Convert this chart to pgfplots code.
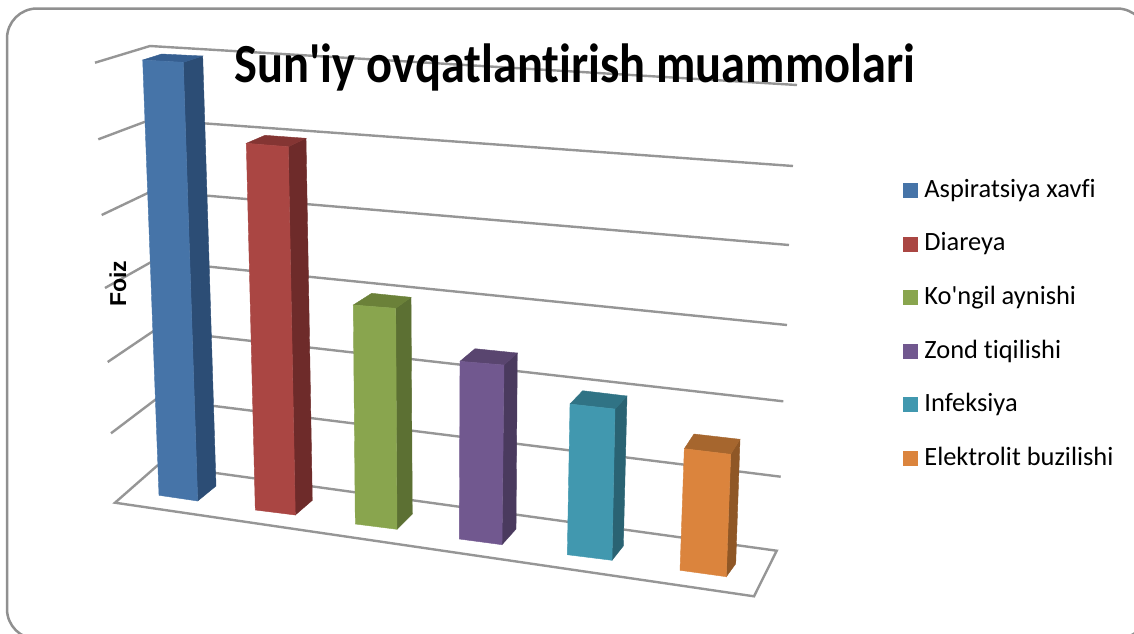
\documentclass[border=0pt]{standalone}
\usepackage{pgfplots}
\pgfplotsset{compat=1.18}
\usepackage{fontspec}
\setmainfont{Carlito}[Ligatures=NoCommon]
\newfontfamily\arialf{Liberation Sans}
\definecolor{gridc}{HTML}{969696}
\definecolor{frameC}{HTML}{909090}
\definecolor{b1}{HTML}{4674A8}\definecolor{b2}{HTML}{2C4D75}\definecolor{b3}{HTML}{365F91}
\definecolor{r1}{HTML}{AA4643}\definecolor{r2}{HTML}{6E2B2A}\definecolor{r3}{HTML}{843533}
\definecolor{g1}{HTML}{89A54E}\definecolor{g2}{HTML}{5C7033}\definecolor{g3}{HTML}{6B8139}
\definecolor{p1}{HTML}{71588F}\definecolor{p2}{HTML}{4A3A5E}\definecolor{p3}{HTML}{59456F}
\definecolor{t1}{HTML}{4198AF}\definecolor{t2}{HTML}{2A6373}\definecolor{t3}{HTML}{307385}
\definecolor{o1}{HTML}{DB843D}\definecolor{o2}{HTML}{8F5726}\definecolor{o3}{HTML}{A6662E}
\pgfplotsset{gl/.style={draw=gridc, line width=2.4pt, forget plot}}
\begin{document}
\begin{tikzpicture}
\begin{axis}[
  scale only axis, width=1134pt, height=633pt,
  xmin=0, xmax=1134, ymin=0, ymax=633, y dir=reverse,
  hide axis, clip=true,
  legend style={at={(axis cs:903,179)}, anchor=north west, draw=none, fill=none,
    font=\fontsize{26.4}{28}\selectfont, row sep=29.6pt, inner sep=0pt,
    nodes={inner sep=0pt, text height=18pt, text depth=6pt}},
  legend cell align=left,
  legend image code/.code={\path[draw=none,fill=none] (0pt,0pt) rectangle (21pt,0pt);\fill[#1] (0pt,-6pt) rectangle (14pt,8pt);},
]
\path (axis cs:0,0) rectangle (axis cs:1134,633);
\draw[frameC, line width=2.5pt, rounded corners=30pt] (axis cs:7,8.5) rectangle (axis cs:1147,639);
% walls and floor
\addplot[gl] coordinates {(95,62.7) (150,46) (797,85)};
\addplot[gl] coordinates {(98.3,139.3) (151,119.5) (793,166)};
\addplot[gl] coordinates {(101.7,215) (152,191) (789,245)};
\addplot[gl] coordinates {(105,288) (153,261) (787,325)};
\addplot[gl] coordinates {(107.7,362) (155,330) (783.3,401.3)};
\addplot[gl] coordinates {(111,433.3) (156.5,398.8) (780.7,476.7)};
\addplot[gl] coordinates {(158,465) (115,502.7) (754,596.3) (776.7,550.7) (158,465)};
% Aspiratsiya xavfi
\addplot[fill=b2, draw=b2, forget plot] coordinates {(183.3,62.3) (202.7,56) (216,486) (197.7,501)} --cycle;
\addplot[fill=b3, draw=b3, forget plot] coordinates {(142.7,60) (161.7,54) (202.7,56) (183.3,62.3)} --cycle;
\addplot[fill=b1, draw=b1] coordinates {(142.7,60) (183.3,62.3) (197.7,501) (159,495.3)} --cycle;
% Diareya
\addplot[fill=r2, draw=r2, forget plot] coordinates {(288.3,146.7) (306,138.3) (312.3,500.3) (295.3,515)} --cycle;
\addplot[fill=r3, draw=r3, forget plot] coordinates {(246.3,143.3) (265,135.3) (306,138.3) (288.3,146.7)} --cycle;
\addplot[fill=r1, draw=r1] coordinates {(246.3,143.3) (288.3,146.7) (295.3,515) (255.3,510)} --cycle;
% Ko'ngil aynishi
\addplot[fill=g2, draw=g2, forget plot] coordinates {(395.7,308.3) (411,297.3) (412.3,514) (397,529.3)} --cycle;
\addplot[fill=g3, draw=g3, forget plot] coordinates {(353.3,305) (371.7,293.3) (411,297.3) (395.7,308.3)} --cycle;
\addplot[fill=g1, draw=g1] coordinates {(353.3,305) (395.7,308.3) (397,529.3) (355.3,524)} --cycle;
% Zond tiqilishi
\addplot[fill=p2, draw=p2, forget plot] coordinates {(504,365) (517.3,353) (516,529) (502,544.7)} --cycle;
\addplot[fill=p3, draw=p3, forget plot] coordinates {(460,361.3) (475,348.7) (517.3,353) (504,365)} --cycle;
\addplot[fill=p1, draw=p1] coordinates {(460,361.3) (504,365) (502,544.7) (459.3,539)} --cycle;
% Infeksiya
\addplot[fill=t2, draw=t2, forget plot] coordinates {(615,409) (627,396) (623.3,546) (612,560.3)} --cycle;
\addplot[fill=t3, draw=t3, forget plot] coordinates {(570,404) (582.7,390.7) (627,396) (615,409)} --cycle;
\addplot[fill=t1, draw=t1] coordinates {(570,404) (615,409) (612,560.3) (567.3,554.7)} --cycle;
% Elektrolit buzilishi
\addplot[fill=o2, draw=o2, forget plot] coordinates {(730.7,454.3) (740,439.3) (735.7,563.7) (726.3,576.7)} --cycle;
\addplot[fill=o3, draw=o3, forget plot] coordinates {(684.3,448.7) (694,434) (740,439.3) (730.7,454.3)} --cycle;
\addplot[fill=o1, draw=o1] coordinates {(684.3,448.7) (730.7,454.3) (726.3,576.7) (680,570.3)} --cycle;
\legend{Aspiratsiya xavfi, Diareya, Ko\textquotesingle ngil aynishi, Zond tiqilishi, Infeksiya, Elektrolit buzilishi}
\node[font=\fontsize{48.4}{50}\selectfont\bfseries, anchor=base, inner sep=0pt, text=black, yscale=1.14, transform shape] at (axis cs:575,82.5) {Sun\textquotesingle iy ovqatlantirish muammolari};
\node[font=\arialf\fontsize{23}{24}\selectfont\bfseries, rotate=90, anchor=base, inner sep=0pt, text=black] at (axis cs:126,283.5) {Foiz};
\end{axis}
\end{tikzpicture}
\end{document}
